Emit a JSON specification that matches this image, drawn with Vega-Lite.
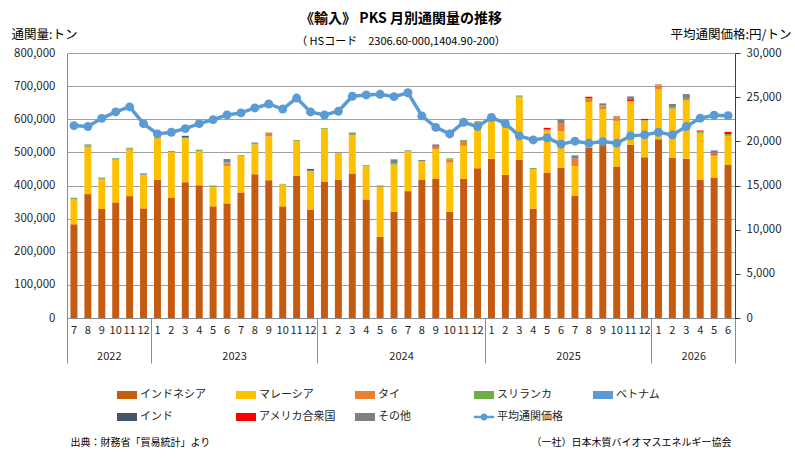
{
  "$schema": "https://vega.github.io/schema/vega-lite/v6.json",
  "width": 668,
  "height": 265,
  "autosize": {"type": "none"},
  "padding": {"left": 67, "top": 53, "right": 60, "bottom": 141},
  "background": "white",
  "title": {
    "text": "《輸入》 PKS 月別通関量の推移",
    "subtitle": "（ HSコード　2306.60-000,1404.90-200）",
    "anchor": "middle",
    "fontSize": 14,
    "fontWeight": "bold",
    "subtitleFontSize": 11,
    "subtitlePadding": 10,
    "offset": -19,
    "color": "#000000",
    "subtitleColor": "#000000",
    "font": "Noto Sans CJK JP",
    "subtitleFont": "Noto Sans CJK JP"
  },
  "datasets": {
    "rank": [
      {"country":"インドネシア","rank":1},
      {"country":"マレーシア","rank":2},
      {"country":"タイ","rank":3},
      {"country":"スリランカ","rank":4},
      {"country":"ベトナム","rank":5},
      {"country":"インド","rank":6},
      {"country":"アメリカ合衆国","rank":7},
      {"country":"その他","rank":8}
    ]
  },
  "data": {"values": [
    {"month":"2022-07","インドネシア":283000,"マレーシア":75000,"タイ":0,"スリランカ":4000,"ベトナム":1000,"インド":0,"アメリカ合衆国":0,"その他":0,"price":21780},
    {"month":"2022-08","インドネシア":374000,"マレーシア":143000,"タイ":0,"スリランカ":3000,"ベトナム":2000,"インド":0,"アメリカ合衆国":0,"その他":2000,"price":21670},
    {"month":"2022-09","インドネシア":329000,"マレーシア":91000,"タイ":0,"スリランカ":3000,"ベトナム":1000,"インド":0,"アメリカ合衆国":0,"その他":0,"price":22600},
    {"month":"2022-10","インドネシア":349000,"マレーシア":129000,"タイ":0,"スリランカ":4000,"ベトナム":1000,"インド":0,"アメリカ合衆国":0,"その他":0,"price":23330},
    {"month":"2022-11","インドネシア":368000,"マレーシア":140000,"タイ":0,"スリランカ":4000,"ベトナム":2000,"インド":0,"アメリカ合衆国":0,"その他":0,"price":23900},
    {"month":"2022-12","インドネシア":331000,"マレーシア":101000,"タイ":0,"スリランカ":2000,"ベトナム":3000,"インド":0,"アメリカ合衆国":0,"その他":0,"price":22000},
    {"month":"2023-01","インドネシア":418000,"マレーシア":130000,"タイ":0,"スリランカ":3000,"ベトナム":2000,"インド":0,"アメリカ合衆国":0,"その他":0,"price":20840},
    {"month":"2023-02","インドネシア":364000,"マレーシア":137000,"タイ":0,"スリランカ":3000,"ベトナム":0,"インド":0,"アメリカ合衆国":0,"その他":0,"price":21030},
    {"month":"2023-03","インドネシア":410000,"マレーシア":132000,"タイ":0,"スリランカ":3000,"ベトナム":0,"インド":5000,"アメリカ合衆国":0,"その他":0,"price":21440},
    {"month":"2023-04","インドネシア":401000,"マレーシア":103000,"タイ":0,"スリランカ":4000,"ベトナム":0,"インド":0,"アメリカ合衆国":0,"その他":0,"price":22000},
    {"month":"2023-05","インドネシア":337000,"マレーシア":60000,"タイ":0,"スリランカ":3000,"ベトナム":0,"インド":0,"アメリカ合衆国":0,"その他":0,"price":22460},
    {"month":"2023-06","インドネシア":346000,"マレーシア":113000,"タイ":8000,"スリランカ":2000,"ベトナム":2000,"インド":0,"アメリカ合衆国":0,"その他":9000,"price":22990},
    {"month":"2023-07","インドネシア":379000,"マレーシア":110000,"タイ":0,"スリランカ":2000,"ベトナム":1000,"インド":0,"アメリカ合衆国":0,"その他":0,"price":23220},
    {"month":"2023-08","インドネシア":434000,"マレーシア":90000,"タイ":0,"スリランカ":4000,"ベトナム":2000,"インド":0,"アメリカ合衆国":0,"その他":0,"price":23780},
    {"month":"2023-09","インドネシア":416000,"マレーシア":132000,"タイ":11000,"スリランカ":1000,"ベトナム":0,"インド":0,"アメリカ合衆国":0,"その他":0,"price":24230},
    {"month":"2023-10","インドネシア":337000,"マレーシア":66000,"タイ":0,"スリランカ":2000,"ベトナム":0,"インド":0,"アメリカ合衆国":0,"その他":0,"price":23650},
    {"month":"2023-11","インドネシア":429000,"マレーシア":105000,"タイ":0,"スリランカ":3000,"ベトナム":0,"インド":0,"アメリカ合衆国":0,"その他":0,"price":24900},
    {"month":"2023-12","インドネシア":327000,"マレーシア":117000,"タイ":0,"スリランカ":1000,"ベトナム":0,"インド":5000,"アメリカ合衆国":0,"その他":0,"price":23330},
    {"month":"2024-01","インドネシア":412000,"マレーシア":158000,"タイ":0,"スリランカ":3000,"ベトナム":0,"インド":0,"アメリカ合衆国":0,"その他":0,"price":22980},
    {"month":"2024-02","インドネシア":417000,"マレーシア":82000,"タイ":0,"スリランカ":0,"ベトナム":2000,"インド":0,"アメリカ合衆国":0,"その他":0,"price":23400},
    {"month":"2024-03","インドネシア":436000,"マレーシア":116000,"タイ":0,"スリランカ":6000,"ベトナム":0,"インド":0,"アメリカ合衆国":0,"その他":2000,"price":25100},
    {"month":"2024-04","インドネシア":358000,"マレーシア":100000,"タイ":0,"スリランカ":2000,"ベトナム":2000,"インド":0,"アメリカ合衆国":0,"その他":0,"price":25250},
    {"month":"2024-05","インドネシア":245000,"マレーシア":152000,"タイ":0,"スリランカ":3000,"ベトナム":0,"インド":0,"アメリカ合衆国":0,"その他":0,"price":25320},
    {"month":"2024-06","インドネシア":321000,"マレーシア":142000,"タイ":0,"スリランカ":4000,"ベトナム":0,"インド":0,"アメリカ合衆国":0,"その他":12000,"price":25060},
    {"month":"2024-07","インドネシア":383000,"マレーシア":122000,"タイ":0,"スリランカ":0,"ベトナム":2000,"インド":0,"アメリカ合衆国":0,"その他":0,"price":25500},
    {"month":"2024-08","インドネシア":418000,"マレーシア":56000,"タイ":0,"スリランカ":0,"ベトナム":1000,"インド":2000,"アメリカ合衆国":0,"その他":0,"price":22880},
    {"month":"2024-09","インドネシア":421000,"マレーシア":89000,"タイ":3000,"スリランカ":2000,"ベトナム":0,"インド":0,"アメリカ合衆国":3000,"その他":6000,"price":21580},
    {"month":"2024-10","インドネシア":321000,"マレーシア":148000,"タイ":10000,"スリランカ":3000,"ベトナム":0,"インド":0,"アメリカ合衆国":0,"その他":0,"price":20840},
    {"month":"2024-11","インドネシア":420000,"マレーシア":100000,"タイ":11000,"スリランカ":6000,"ベトナム":0,"インド":0,"アメリカ合衆国":0,"その他":0,"price":22160},
    {"month":"2024-12","インドネシア":452000,"マレーシア":139000,"タイ":0,"スリランカ":3000,"ベトナム":0,"インド":0,"アメリカ合衆国":0,"その他":0,"price":21670},
    {"month":"2025-01","インドネシア":481000,"マレーシア":112000,"タイ":0,"スリランカ":2000,"ベトナム":0,"インド":0,"アメリカ合衆国":0,"その他":0,"price":22710},
    {"month":"2025-02","インドネシア":432000,"マレーシア":151000,"タイ":0,"スリランカ":2000,"ベトナム":0,"インド":0,"アメリカ合衆国":0,"その他":0,"price":22020},
    {"month":"2025-03","インドネシア":477000,"マレーシア":191000,"タイ":0,"スリランカ":3000,"ベトナム":1000,"インド":0,"アメリカ合衆国":0,"その他":0,"price":20620},
    {"month":"2025-04","インドネシア":330000,"マレーシア":120000,"タイ":0,"スリランカ":3000,"ベトナム":0,"インド":0,"アメリカ合衆国":0,"その他":0,"price":20160},
    {"month":"2025-05","インドネシア":439000,"マレーシア":126000,"タイ":2000,"スリランカ":3000,"ベトナム":0,"インド":0,"アメリカ合衆国":4000,"その他":0,"price":20390},
    {"month":"2025-06","インドネシア":454000,"マレーシア":109000,"タイ":24000,"スリランカ":0,"ベトナム":0,"インド":0,"アメリカ合衆国":1000,"その他":12000,"price":19680},
    {"month":"2025-07","インドネシア":370000,"マレーシア":89000,"タイ":22000,"スリランカ":0,"ベトナム":0,"インド":0,"アメリカ合衆国":0,"その他":10000,"price":20020},
    {"month":"2025-08","インドネシア":515000,"マレーシア":137000,"タイ":12000,"スリランカ":0,"ベトナム":0,"インド":0,"アメリカ合衆国":4000,"その他":0,"price":19790},
    {"month":"2025-09","インドネシア":523000,"マレーシア":108000,"タイ":8000,"スリランカ":3000,"ベトナム":0,"インド":0,"アメリカ合衆国":0,"その他":6000,"price":19970},
    {"month":"2025-10","インドネシア":457000,"マレーシア":138000,"タイ":10000,"スリランカ":3000,"ベトナム":0,"インド":0,"アメリカ合衆国":0,"その他":2000,"price":19790},
    {"month":"2025-11","インドネシア":523000,"マレーシア":132000,"タイ":0,"スリランカ":0,"ベトナム":0,"インド":0,"アメリカ合衆国":3000,"その他":11000,"price":20620},
    {"month":"2025-12","インドネシア":485000,"マレーシア":112000,"タイ":0,"スリランカ":0,"ベトナム":0,"インド":0,"アメリカ合衆国":4000,"その他":0,"price":20730},
    {"month":"2026-01","インドネシア":540000,"マレーシア":150000,"タイ":11000,"スリランカ":2000,"ベトナム":0,"インド":0,"アメリカ合衆国":0,"その他":2000,"price":21030},
    {"month":"2026-02","インドネシア":483000,"マレーシア":149000,"タイ":0,"スリランカ":3000,"ベトナム":0,"インド":0,"アメリカ合衆国":0,"その他":11000,"price":20730},
    {"month":"2026-03","インドネシア":481000,"マレーシア":177000,"タイ":0,"スリランカ":4000,"ベトナム":0,"インド":0,"アメリカ合衆国":0,"その他":14000,"price":21670},
    {"month":"2026-04","インドネシア":418000,"マレーシア":141000,"タイ":0,"スリランカ":4000,"ベトナム":0,"インド":0,"アメリカ合衆国":3000,"その他":0,"price":22620},
    {"month":"2026-05","インドネシア":424000,"マレーシア":66000,"タイ":0,"スリランカ":3000,"ベトナム":0,"インド":0,"アメリカ合衆国":3000,"その他":10000,"price":22960},
    {"month":"2026-06","インドネシア":462000,"マレーシア":88000,"タイ":0,"スリランカ":5000,"ベトナム":0,"インド":0,"アメリカ合衆国":7000,"その他":0,"price":22910}
  ]},
  "layer": [
    {
      "transform": [
        {"fold": ["インドネシア","マレーシア","タイ","スリランカ","ベトナム","インド","アメリカ合衆国","その他"], "as": ["country","ton"]},
        {"lookup": "country", "from": {"data": {"name": "rank"}, "key": "country", "fields": ["rank"]}}
      ],
      "mark": {"type": "bar", "width": {"band": 0.5}},
      "encoding": {
        "x": {
          "field": "month", "type": "ordinal",
          "scale": {"paddingInner": 0, "paddingOuter": 0},
          "axis": {
            "orient": "bottom",
            "title": "出典：財務省「貿易統計」より",
            "titleX": 3, "titleY": 124, "titleAlign": "left", "titleAnchor": "start", "titleBaseline": "middle",
            "titleFontSize": 10,
            "labelExpr": "'' + toNumber(slice(datum.value, 5))",
            "labelAngle": 0, "labelPadding": 6, "labelOverlap": false, "labelFlush": false,
            "ticks": false, "domain": true, "domainColor": "#8c8c8c",
            "labelFontSize": 11, "labelColor": "#262626"
          }
        },
        "y": {
          "field": "ton", "type": "quantitative", "stack": "zero",
          "scale": {"domain": [0, 800000]},
          "axis": {
            "title": "通関量:トン", "titleAngle": 0, "titleX": -56, "titleY": -19, "titleAlign": "left", "titleBaseline": "middle",
            "titleFontSize": 12.5,
            "values": [0,100000,200000,300000,400000,500000,600000,700000,800000],
            "labelExpr": "format(datum.value, ',')",
            "grid": true, "gridColor": "#a0a0a0", "ticks": false,
            "domainColor": "#8c8c8c", "labelPadding": 12, "labelFontSize": 11.5, "labelColor": "#262626"
          }
        },
        "color": {
          "field": "country", "type": "nominal",
          "scale": {
            "domain": ["インドネシア","マレーシア","タイ","スリランカ","ベトナム","インド","アメリカ合衆国","その他","平均通関価格"],
            "range": ["#c55a11","#ffc000","#ed7d31","#70ad47","#5b9bd5","#44546a","#ff0000","#808080","#5b9bd5"]
          },
          "legend": {
            "orient": "none", "legendX": 50, "legendY": 332,
            "direction": "horizontal", "columns": 5, "title": null,
            "gridAlign": "all", "columnPadding": 19, "rowPadding": 7,
            "symbolSize": 400, "labelFontSize": 11, "labelOffset": 3, "padding": 0, "labelLimit": 200,
            "labelColor": "#262626",
            "encode": {
              "symbols": {
                "update": {
                  "shape": {"signal": "datum.value === '平均通関価格' ? 'M-1,-0.13H1V0.13H-1Z M-0.35,0A0.35,0.35 0 1,1 0.35,0A0.35,0.35 0 1,1 -0.35,0Z' : 'M-1,-0.4H1V0.4H-1Z'"},
                  "fill": {"scale": "color", "field": "value"},
                  "stroke": {"value": "transparent"},
                  "strokeWidth": {"value": 0},
                  "opacity": {"value": 1},
                  "size": {"value": 400}
                }
              }
            }
          }
        },
        "order": {"field": "rank", "type": "quantitative", "sort": "ascending"}
      }
    },
    {
      "mark": {"type": "line", "strokeWidth": 3.5, "point": {"filled": true, "size": 80}},
      "encoding": {
        "x": {
          "field": "month", "type": "ordinal",
          "axis": {
            "orient": "bottom",
            "title": "（一社）日本木質バイオマスエネルギー協会",
            "titleX": 664, "titleY": 124, "titleAlign": "right", "titleAnchor": "end", "titleBaseline": "middle",
            "titleFontSize": 10,
            "domain": false, "ticks": true, "tickBand": "extent", "tickSize": 45, "tickColor": "#8c8c8c",
            "tickOpacity": {"condition": {"test": "datum.index < 0 || slice(datum.value, 5) == '12' || datum.value == '2026-06'", "value": 1}, "value": 0},
            "labelExpr": "datum.value == '2022-09' ? '2022' : datum.value == '2023-06' ? '2023' : datum.value == '2024-06' ? '2024' : datum.value == '2025-06' ? '2025' : datum.value == '2026-03' ? '2026' : ''",
            "labelOffset": 7, "labelPadding": -13, "labelAngle": 0, "labelOverlap": false, "labelFlush": false,
            "labelFontSize": 11, "labelColor": "#262626", "grid": false
          }
        },
        "y": {
          "field": "price", "type": "quantitative",
          "scale": {"domain": [0, 30000]},
          "axis": {
            "orient": "right",
            "title": "平均通関価格:円/トン", "titleAngle": 0, "titleX": 56, "titleY": -19, "titleAlign": "right", "titleBaseline": "middle",
            "titleFontSize": 12.5,
            "values": [0,5000,10000,15000,20000,25000,30000],
            "labelExpr": "format(datum.value, ',')",
            "grid": false, "domainColor": "#404040", "tickColor": "#404040", "tickSize": 5,
            "labelPadding": 6, "labelFontSize": 11.5, "labelColor": "#262626"
          }
        },
        "color": {"datum": "平均通関価格"}
      }
    }
  ],
  "resolve": {"scale": {"y": "independent"}, "axis": {"x": "independent"}},
  "config": {
    "font": "Noto Sans CJK JP",
    "view": {"stroke": null},
    "axis": {"titleFontWeight": "normal", "titleFontSize": 11, "titleColor": "#000000", "titleFont": "Noto Sans CJK JP", "labelFont": "Noto Sans CJK JP"},
    "legend": {"labelFont": "Noto Sans CJK JP"}
  }
}
